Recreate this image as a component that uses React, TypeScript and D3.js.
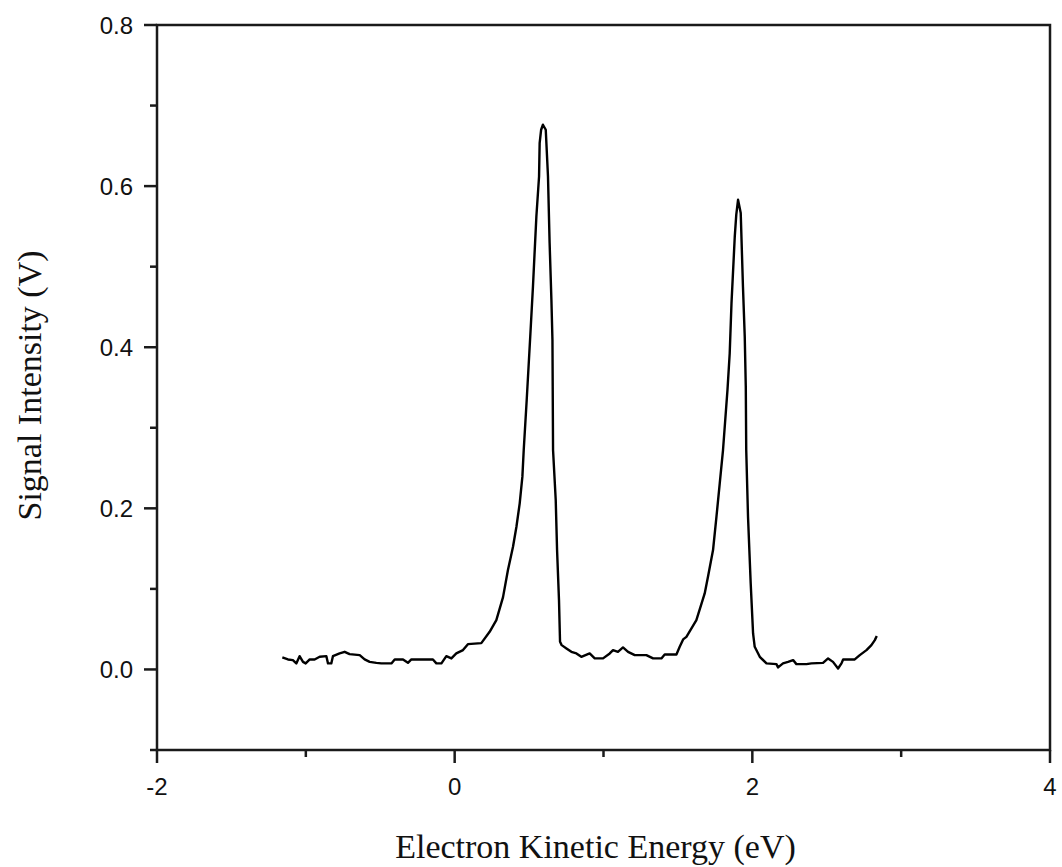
import * as d3 from "d3";

const W = 1062;
const H = 867;
const MARGIN = { top: 25, right: 12, bottom: 117, left: 157 };

// electron kinetic energy (eV) and signal (V)
const energy = [
  -1.158, -1.12, -1.087, -1.064, -1.042, -1.019, -1.001, -0.974, -0.941, -0.907, -0.862, -0.851,
  -0.829, -0.818, -0.773, -0.739, -0.706, -0.638, -0.605, -0.571, -0.526, -0.493, -0.425, -0.403,
  -0.347, -0.314, -0.291, -0.146, -0.123, -0.089, -0.056, -0.022, 0.011, 0.056, 0.089, 0.179,
  0.235, 0.28, 0.325, 0.358, 0.392, 0.415, 0.437, 0.455, 0.464, 0.484, 0.509, 0.526, 0.538, 0.549,
  0.567, 0.571, 0.581, 0.593, 0.612, 0.627, 0.638, 0.65, 0.657, 0.661, 0.679, 0.688, 0.701, 0.708,
  0.719, 0.751, 0.784, 0.818, 0.851, 0.907, 0.941, 0.997, 1.042, 1.064, 1.097, 1.131, 1.165, 1.21,
  1.288, 1.333, 1.389, 1.411, 1.49, 1.512, 1.535, 1.557, 1.591, 1.624, 1.68, 1.702, 1.736, 1.759,
  1.781, 1.803, 1.833, 1.848, 1.86, 1.882, 1.892, 1.904, 1.922, 1.937, 1.949, 1.956, 1.959, 1.971,
  1.989, 2.005, 2.016, 2.05, 2.095, 2.162, 2.173, 2.206, 2.24, 2.274, 2.296, 2.364, 2.397, 2.475,
  2.509, 2.542, 2.576, 2.599, 2.61, 2.688, 2.722, 2.767, 2.8, 2.823, 2.836,
];

const signal = [
  0.0149, 0.0124, 0.0116, 0.0075, 0.0165, 0.0094, 0.0075, 0.0124, 0.0124, 0.0157, 0.0165, 0.0075,
  0.0075, 0.0165, 0.0199, 0.0219, 0.019, 0.0178, 0.0124, 0.0094, 0.0082, 0.0075, 0.0075, 0.0124,
  0.0124, 0.0082, 0.0124, 0.0124, 0.0075, 0.0075, 0.0165, 0.0137, 0.0199, 0.024, 0.0314, 0.0327,
  0.0467, 0.0612, 0.0898, 0.1234, 0.1523, 0.1771, 0.2062, 0.2393, 0.2724, 0.3345, 0.4174, 0.4753,
  0.5209, 0.5622, 0.6119, 0.6534, 0.67, 0.6762, 0.67, 0.6119, 0.5292, 0.4588, 0.4091, 0.2724,
  0.2103, 0.1482, 0.0861, 0.0343, 0.0302, 0.0261, 0.0219, 0.0199, 0.0157, 0.0199, 0.0137, 0.0137,
  0.0199, 0.024, 0.0219, 0.0273, 0.0219, 0.0178, 0.0178, 0.0137, 0.0137, 0.0186, 0.0186, 0.0281,
  0.0373, 0.0405, 0.0509, 0.0612, 0.0944, 0.115, 0.1482, 0.1896, 0.2311, 0.2724, 0.347, 0.3925,
  0.4547, 0.5374, 0.5643, 0.583, 0.5665, 0.4753, 0.4132, 0.3511, 0.2724, 0.1896, 0.1068, 0.0447,
  0.0281, 0.0157, 0.0075, 0.0066, 0.0025, 0.0075, 0.0094, 0.0116, 0.0066, 0.0066, 0.0075, 0.0082,
  0.0137, 0.0094, 0.0012, 0.0075, 0.0124, 0.0124, 0.0178, 0.024, 0.0302, 0.0364, 0.0414,
];

const xMajor = [-2, 0, 2, 4];
const xMinor = [-1, 1, 3];
const yMajor = [0, 0.2, 0.4, 0.6, 0.8];
const yMinor = [-0.1, 0.1, 0.3, 0.5, 0.7];

const X_TITLE = "Electron Kinetic Energy (eV)";
const Y_TITLE = "Signal Intensity (V)";

const MAJOR = 13;
const MINOR = 7;

export default function App() {
  const bw = W - MARGIN.left - MARGIN.right;
  const bh = H - MARGIN.top - MARGIN.bottom;

  const x = d3.scaleLinear().domain([-2, 4]).range([0, bw]);
  const y = d3.scaleLinear().domain([-0.1, 0.8]).range([bh, 0]);

  const points = energy.map((e, i) => [e, signal[i]] as [number, number]);
  const path = d3
    .line<[number, number]>()
    .x((d) => x(d[0]))
    .y((d) => y(d[1]))(points);

  const sans = "'Liberation Sans', Arial, sans-serif";
  const serif = "'Liberation Serif', 'Times New Roman', serif";
  const ink = "#1a1a1a";

  return (
    <svg
      width={W}
      height={H}
      style={{ position: "absolute", left: 0, top: 0, background: "#fff" }}
    >
      <g transform={`translate(${MARGIN.left},${MARGIN.top})`}>
        <rect x={0} y={0} width={bw} height={bh} fill="none" stroke={ink} strokeWidth={2.5} />

        {xMajor.map((t) => (
          <g key={`xm${t}`}>
            <line x1={x(t)} x2={x(t)} y1={bh} y2={bh + MAJOR} stroke={ink} strokeWidth={2.5} />
            <text
              x={x(t)}
              y={bh + 45}
              textAnchor="middle"
              fontFamily={sans}
              fontSize={24}
              fill="#111"
            >
              {t}
            </text>
          </g>
        ))}
        {xMinor.map((t) => (
          <line key={`xn${t}`} x1={x(t)} x2={x(t)} y1={bh} y2={bh + MINOR} stroke={ink} strokeWidth={2.5} />
        ))}

        {yMajor.map((t) => (
          <g key={`ym${t}`}>
            <line x1={-MAJOR} x2={0} y1={y(t)} y2={y(t)} stroke={ink} strokeWidth={2.5} />
            <text
              x={-24}
              y={y(t)}
              dy="0.36em"
              textAnchor="end"
              fontFamily={sans}
              fontSize={24}
              fill="#111"
            >
              {d3.format(".1f")(t)}
            </text>
          </g>
        ))}
        {yMinor.map((t) => (
          <line key={`yn${t}`} x1={-MINOR} x2={0} y1={y(t)} y2={y(t)} stroke={ink} strokeWidth={2.5} />
        ))}

        <path d={path ?? ""} fill="none" stroke="#000" strokeWidth={2.4} strokeLinejoin="round" />

        <text
          x={x(1) - 8}
          y={bh + 108}
          textAnchor="middle"
          fontFamily={serif}
          fontSize={34}
          fill="#111"
        >
          {X_TITLE}
        </text>
        <text
          transform={`translate(${-116},${bh / 2 - 2}) rotate(-90)`}
          textAnchor="middle"
          fontFamily={serif}
          fontSize={34}
          fill="#111"
        >
          {Y_TITLE}
        </text>
      </g>
    </svg>
  );
}
